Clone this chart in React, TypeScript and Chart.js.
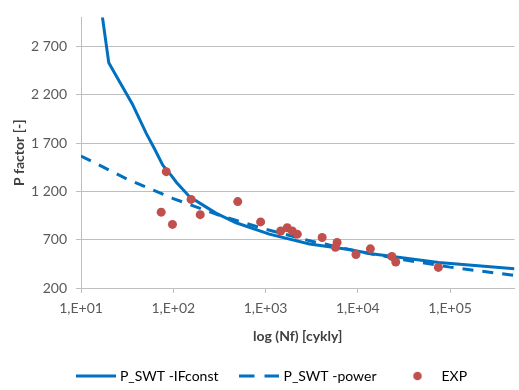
import { useEffect, useRef } from 'react';
import { Chart, registerables } from 'chart.js';

Chart.register(...registerables);

// P_SWT curve with constant IF (cycles, P factor)
const cyclesIF = [16.8, 20, 26, 36, 51, 63, 77, 95, 108, 150, 208, 290, 480, 1100, 3000, 8000, 14100, 75000, 500000];
const pIF = [3050, 2530, 2340, 2105, 1800, 1635, 1470, 1365, 1295, 1145, 1060, 975, 875, 757, 655, 598, 554, 463, 400];

// P_SWT power-law fit
const cyclesPow = [10, 31.6, 100, 316, 1000, 3160, 10000, 31600, 100000, 500000];
const pPow = [1566, 1327, 1125, 953, 808, 684, 580, 491, 416, 330];

// Experimental points
const cyclesExp = [74, 84, 98, 156, 196, 500, 885, 1460, 1720, 1950, 2210, 4110, 5970, 5730, 9560, 13700, 23400, 25800, 74700];
const pExp = [985, 1404, 858, 1117, 959, 1094, 884, 790, 823, 790, 757, 722, 672, 621, 547, 605, 527, 469, 413];

// Axis ticks
const xTickValues = [10, 100, 1000, 10000, 100000];
const xTickLabels = ['1,E+01', '1,E+02', '1,E+03', '1,E+04', '1,E+05'];
const yTickValues = [200, 700, 1200, 1700, 2200, 2700];
const yTickLabels = ['200', '700', '1 200', '1 700', '2 200', '2 700'];

const seriesNames = ['P_SWT -IFconst', 'P_SWT -power', 'EXP'];

const BLUE = '#0070C0';
const RED = '#C0504D';
const GRID = '#bfbfbf';

function legendSwatch(kind: 'solid' | 'dash' | 'dot'): HTMLCanvasElement {
  const c = document.createElement('canvas');
  c.width = 40;
  c.height = 10;
  const g = c.getContext('2d')!;
  if (kind === 'dot') {
    g.fillStyle = RED;
    g.beginPath();
    g.arc(20, 5, 4.3, 0, Math.PI * 2);
    g.fill();
  } else {
    g.fillStyle = BLUE;
    if (kind === 'solid') {
      g.fillRect(0, 3.5, 40, 3);
    } else {
      g.fillRect(0, 3.5, 15, 3);
      g.fillRect(25, 3.5, 15, 3);
    }
  }
  return c;
}

const zip = (xs: number[], ys: number[]) => xs.map((x, i) => ({ x, y: ys[i] }));

// nudges the bottom legend a little to the right, under the plot area
const legendOffset = {
  id: 'legendOffset',
  afterLayout(chart: any) {
    const lg = chart.legend;
    if (lg) {
      lg.left += 14;
      lg.right += 14;
    }
  },
};

export default function App() {
  const ref = useRef<HTMLCanvasElement | null>(null);

  useEffect(() => {
    if (!ref.current) return;
    Chart.defaults.font.family = 'Lato';
    const swatches = [legendSwatch('solid'), legendSwatch('dash'), legendSwatch('dot')];

    const chart = new Chart(ref.current, {
      type: 'line',
      data: {
        datasets: [
          {
            label: seriesNames[0],
            data: zip(cyclesIF, pIF),
            borderColor: BLUE,
            borderWidth: 3,
            pointRadius: 0,
            tension: 0,
            order: 2,
          },
          {
            label: seriesNames[1],
            data: zip(cyclesPow, pPow),
            borderColor: BLUE,
            borderWidth: 3,
            borderDash: [11, 9],
            pointRadius: 0,
            tension: 0,
            order: 3,
          },
          {
            label: seriesNames[2],
            data: zip(cyclesExp, pExp),
            showLine: false,
            pointRadius: 4.5,
            pointBackgroundColor: RED,
            pointBorderWidth: 0,
            borderColor: RED,
            order: 1,
          },
        ],
      },
      options: {
        responsive: false,
        maintainAspectRatio: false,
        animation: false,
        devicePixelRatio: 1,
        events: [],
        layout: { padding: { top: 12, right: 1, left: 0, bottom: 0 } },
        plugins: {
          tooltip: { enabled: false },
          legend: {
            position: 'bottom',
            labels: {
              usePointStyle: true,
              pointStyleWidth: 34,
              padding: 24,
              color: '#404040',
              font: { size: 14 },
              generateLabels: () =>
                seriesNames.map((name, i) => ({
                  text: name,
                  pointStyle: swatches[i],
                  fillStyle: 'transparent',
                  strokeStyle: 'transparent',
                  lineWidth: 0,
                  datasetIndex: i,
                  hidden: false,
                })),
            },
          },
        },
        scales: {
          x: {
            type: 'logarithmic',
            min: 10,
            max: 500000,
            afterBuildTicks: (s: any) => {
              s.ticks = xTickValues.map((v) => ({ value: v, major: false }));
            },
            afterFit: (s: any) => {
              s.height = 57;
            },
            ticks: {
              callback: (_v: any, i: number) => xTickLabels[i],
              autoSkip: false,
              maxRotation: 0,
              padding: 7,
              color: '#595959',
              font: { size: 14 },
            },
            grid: { drawOnChartArea: false, drawTicks: true, tickLength: 5, color: GRID, lineWidth: 1 },
            border: { color: GRID, width: 1 },
            title: {
              display: true,
              text: 'log (Nf) [cykly]',
              color: '#404040',
              font: { size: 14, weight: 'bold' },
              padding: { top: 0, bottom: 0 },
            },
          },
          y: {
            type: 'linear',
            min: 200,
            max: 3000,
            afterBuildTicks: (s: any) => {
              s.ticks = yTickValues.map((v) => ({ value: v }));
            },
            afterFit: (s: any) => {
              s.width = 81;
            },
            ticks: {
              callback: (_v: any, i: number) => yTickLabels[i],
              padding: 9,
              color: '#595959',
              font: { size: 14 },
            },
            grid: { color: GRID, lineWidth: 1, drawTicks: true, tickLength: 5 },
            border: { color: GRID, width: 1 },
            title: {
              display: true,
              text: 'P factor [-]',
              color: '#404040',
              font: { size: 14, weight: 'bold' },
              padding: { top: 11, bottom: 0 },
            },
          },
        },
      },
      plugins: [legendOffset],
    } as any);

    return () => chart.destroy();
  }, []);

  return (
    <div style={{ position: 'absolute', left: 0, top: 0, width: 519, height: 390, overflow: 'hidden', background: '#fff' }}>
      <canvas ref={ref} width={519} height={393} style={{ display: 'block', width: 519, height: 393 }} />
    </div>
  );
}
